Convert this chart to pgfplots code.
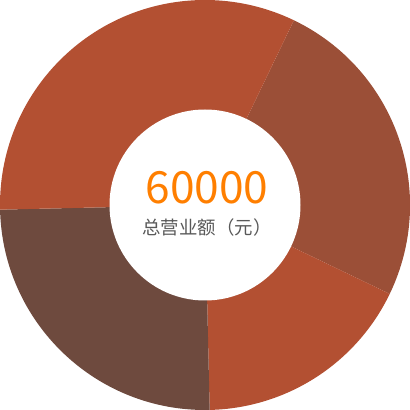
\documentclass[border=0pt]{standalone}
\usepackage{pgfplots}
\usepackage{pgfplotstable}
\pgfplotsset{compat=1.18}
\usepackage{fontspec}
\newfontfamily\cjk{Noto Sans CJK SC}
\definecolor{cA}{HTML}{9B4F37}
\definecolor{cB}{HTML}{B35032}
\definecolor{cC}{HTML}{6E4A3E}
\definecolor{numc}{HTML}{FF7F00}
\definecolor{txtc}{HTML}{595959}
\pgfplotstableread{
value
15000
10500
15000
19500
}\slices
\pgfplotstablegetelem{0}{value}\of\slices \let\vA\pgfplotsretval
\pgfplotstablegetelem{1}{value}\of\slices \let\vB\pgfplotsretval
\pgfplotstablegetelem{2}{value}\of\slices \let\vC\pgfplotsretval
\pgfplotstablegetelem{3}{value}\of\slices \let\vD\pgfplotsretval
\edef\tot{\fpeval{\vA+\vB+\vC+\vD}}
\edef\aA{64.3}
\edef\aB{\fpeval{round(\aA-360*\vA/\tot,3)}}
\edef\aC{\fpeval{round(\aB-360*\vB/\tot,3)}}
\edef\aD{\fpeval{round(\aC-360*\vC/\tot,3)}}
\edef\aE{\fpeval{round(\aD-360*\vD/\tot,3)}}
\begin{document}
\begin{tikzpicture}
\begin{axis}[
  hide axis, clip=false,
  x=205bp, y=205bp,
  xmin=-1, xmax=1, ymin=-1, ymax=1,
]
\fill[cA] (axis cs:0,0) -- (axis cs:{cos(\aA)},{sin(\aA)}) arc[start angle=\aA, end angle=\aB, radius=205bp] -- cycle;
\fill[cB] (axis cs:0,0) -- (axis cs:{cos(\aB)},{sin(\aB)}) arc[start angle=\aB, end angle=\aC, radius=205bp] -- cycle;
\fill[cC] (axis cs:0,0) -- (axis cs:{cos(\aC)},{sin(\aC)}) arc[start angle=\aC, end angle=\aD, radius=205bp] -- cycle;
\fill[cB] (axis cs:0,0) -- (axis cs:{cos(\aD)},{sin(\aD)}) arc[start angle=\aD, end angle=\aE, radius=205bp] -- cycle;
\fill[white] (axis cs:0,0) circle[radius=95.5bp];
\node[text=numc, font=\cjk\fontsize{44.5}{44.5}\selectfont, anchor=center, inner sep=0pt] at (axis cs:0.01,0.083) {60000};
\node[text=txtc, font=\cjk\fontsize{18.5}{18.5}\selectfont, anchor=center, inner sep=0pt] at (axis cs:0.01,-0.11) {总营业额（元）};
\end{axis}
\pgfresetboundingbox
\useasboundingbox (current axis.south west) rectangle (current axis.north east);
\end{tikzpicture}
\end{document}
